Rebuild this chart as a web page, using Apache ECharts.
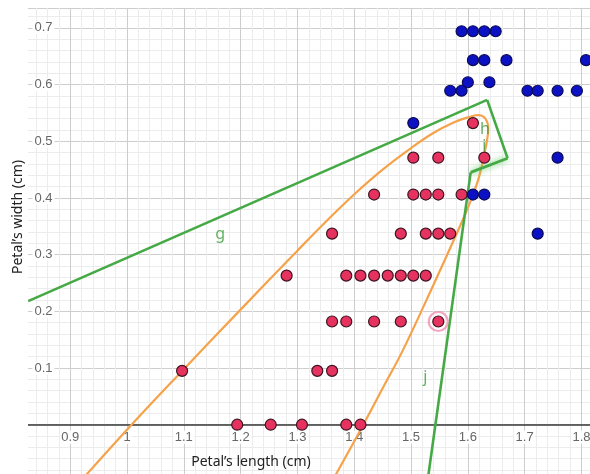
<!DOCTYPE html>
<html><head><meta charset="utf-8">
<script src="https://cdn.jsdelivr.net/npm/echarts@6/dist/echarts.min.js"></script>
<style>html,body{margin:0;padding:0;background:#fff}#c{width:590px;height:474px}</style>
</head><body><div id="c"></div>
<script>
// Red class points (petal length, petal width)
const redLength = [1.097,
  1.194, 1.253, 1.308, 1.386, 1.411,
  1.335, 1.361,
  1.361, 1.386, 1.435, 1.482, 1.548,
  1.281, 1.386, 1.411, 1.435, 1.459, 1.482, 1.504, 1.526,
  1.361, 1.482, 1.526, 1.548, 1.569,
  1.435, 1.504, 1.526, 1.548, 1.589,
  1.504, 1.548, 1.629,
  1.609];
const redWidth = [0.095,
  0, 0, 0, 0, 0,
  0.095, 0.095,
  0.182, 0.182, 0.182, 0.182, 0.182,
  0.263, 0.263, 0.263, 0.263, 0.263, 0.263, 0.263, 0.263,
  0.337, 0.337, 0.337, 0.337, 0.337,
  0.406, 0.406, 0.406, 0.406, 0.406,
  0.471, 0.471, 0.471,
  0.532];
// Blue class points
const blueLength = [1.609, 1.629,
  1.723,
  1.758,
  1.504,
  1.569, 1.589, 1.705, 1.723, 1.758, 1.792,
  1.600, 1.638,
  1.609, 1.629, 1.668, 1.808,
  1.589, 1.609, 1.629, 1.649];
const blueWidth = [0.406, 0.406,
  0.337,
  0.471,
  0.532,
  0.589, 0.589, 0.589, 0.589, 0.589, 0.589,
  0.604, 0.604,
  0.643, 0.643, 0.643, 0.643,
  0.694, 0.694, 0.694, 0.694];
const highlightedPoint = [1.548, 0.182];
// Green boundary lines g, h, i, j
const lineG = [[0.826, 0.218], [1.634, 0.573]];
const lineH = [[1.634, 0.573], [1.670, 0.470]];
const lineI = [[1.670, 0.470], [1.605, 0.445]];
const lineJ = [[1.605, 0.445], [1.529, -0.1]];
// Orange curve
const orangeX = [0.918, 1.008, 1.100, 1.200, 1.300, 1.357, 1.404, 1.450, 1.500, 1.540, 1.575, 1.600, 1.618, 1.628, 1.634, 1.636, 1.634, 1.630, 1.620, 1.607, 1.591, 1.541, 1.486, 1.451, 1.416, 1.361];
const orangeY = [-0.1, 0, 0.098, 0.203, 0.307, 0.365, 0.410, 0.450, 0.488, 0.515, 0.533, 0.542, 0.546, 0.543, 0.534, 0.522, 0.503, 0.482, 0.438, 0.400, 0.361, 0.250, 0.132, 0.066, 0, -0.1];
// Line name labels
const lineNames = ['g', 'h', 'i', 'j'];
const lineNameX = [1.164, 1.630, 1.629, 1.525];
const lineNameY = [0.335, 0.520, 0.490, 0.083];

const zip = (a, b) => a.map((v, i) => [v, b[i]]);
const isTenth = v => Math.abs(v * 10 - Math.round(v * 10)) < 1e-6;
const GREEN = '#45aa45';
const chart = echarts.init(document.getElementById('c'), null, {renderer: 'canvas'});
const labelFont = 'Liberation Sans, Arial, sans-serif';
const yMin = -0.1;
chart.setOption({
  animation: false,
  grid: {left: 13.4, top: 8, width: 579.4, height: 473.4, containLabel: false, outerBoundsMode: 'none'},
  xAxis: {
    type: 'value', min: 0.8, max: 1.82, interval: 0.1,
    position: 'bottom', offset: -56.7,
    axisLine: {show: true, onZero: false, lineStyle: {color: '#3a3a3a', width: 1.5}},
    axisTick: {show: false},
    axisLabel: {color: '#666', fontSize: 13, fontFamily: labelFont, margin: 6,
      backgroundColor: '#fff', padding: [0, 1], showMaxLabel: false,
      formatter: v => isTenth(v) ? String(+v.toFixed(1)) : ''},
    splitLine: {show: true, lineStyle: {color: '#cdcdcd', width: 1}},
    minorTick: {show: false, splitNumber: 5},
    minorSplitLine: {show: true, lineStyle: {color: '#ececec', width: 1}}
  },
  yAxis: {
    type: 'value', min: yMin, max: 0.735, interval: 0.1,
    axisLine: {show: false},
    axisTick: {show: false},
    axisLabel: {inside: true, margin: 19, color: '#666', fontSize: 13, fontFamily: labelFont,
      backgroundColor: '#fff', padding: [0, 2], showMaxLabel: false,
      formatter: v => (Math.abs(v) < 1e-9 || v < 0 || !isTenth(v)) ? '' : String(+v.toFixed(1))},
    splitLine: {show: true, lineStyle: {color: '#cdcdcd', width: 1}},
    minorTick: {show: false, splitNumber: 5},
    minorSplitLine: {show: true, lineStyle: {color: '#ececec', width: 1}}
  },
  series: [
    {type: 'line', data: zip(orangeX, orangeY), smooth: 0.4, symbol: 'none',
      lineStyle: {color: '#f5a24a', width: 2.2}, z: 3},
    {type: 'line', data: lineG, symbol: 'none', lineStyle: {color: GREEN, width: 2.6}, z: 4},
    {type: 'line', data: lineH, symbol: 'none', lineStyle: {color: GREEN, width: 2.6}, z: 4},
    {type: 'line', data: lineI, symbol: 'none', lineStyle: {color: GREEN, width: 2.8,
      shadowBlur: 6, shadowColor: 'rgba(80,200,80,0.9)'}, z: 4},
    {type: 'line', data: lineJ, symbol: 'none', lineStyle: {color: GREEN, width: 2.6}, z: 4},
    {type: 'scatter', data: zip(redLength, redWidth), symbolSize: 11,
      itemStyle: {color: '#e6325f', borderColor: '#3d1420', borderWidth: 1.2, opacity: 1}, z: 5},
    {type: 'scatter', data: zip(blueLength, blueWidth), symbolSize: 11,
      itemStyle: {color: '#0c12c4', borderColor: '#0a0a55', borderWidth: 1.2, opacity: 1}, z: 5},
    {type: 'scatter', data: [highlightedPoint], symbolSize: 19,
      itemStyle: {color: 'rgba(0,0,0,0)', borderColor: '#f090b2', borderWidth: 2.2}, z: 6},
    {type: 'scatter', data: lineNames.map((n, i) => [lineNameX[i], lineNameY[i], n]),
      symbolSize: 0, silent: true, z: 7,
      label: {show: true, position: 'inside', formatter: p => p.value[2],
        color: '#3a9e3a', fontSize: 16, fontFamily: 'Noto Sans, sans-serif'}}
  ],
  graphic: [
    {type: 'rect', left: 0, top: 0, shape: {width: 28, height: 474}, style: {fill: '#fff'}, z: 100},
    {type: 'text', x: 18, y: 217, rotation: Math.PI / 2, z: 101,
      style: {text: 'Petal’s width (cm)', fill: '#222', font: '14px "Noto Sans", sans-serif',
        textAlign: 'center', textVerticalAlign: 'middle'}},
    {type: 'text', x: 251, y: 462, z: 101,
      style: {text: 'Petal’s length (cm)', fill: '#222', font: '14px "Noto Sans", sans-serif',
        textAlign: 'center', textVerticalAlign: 'middle'}}
  ]
});
</script></body></html>
